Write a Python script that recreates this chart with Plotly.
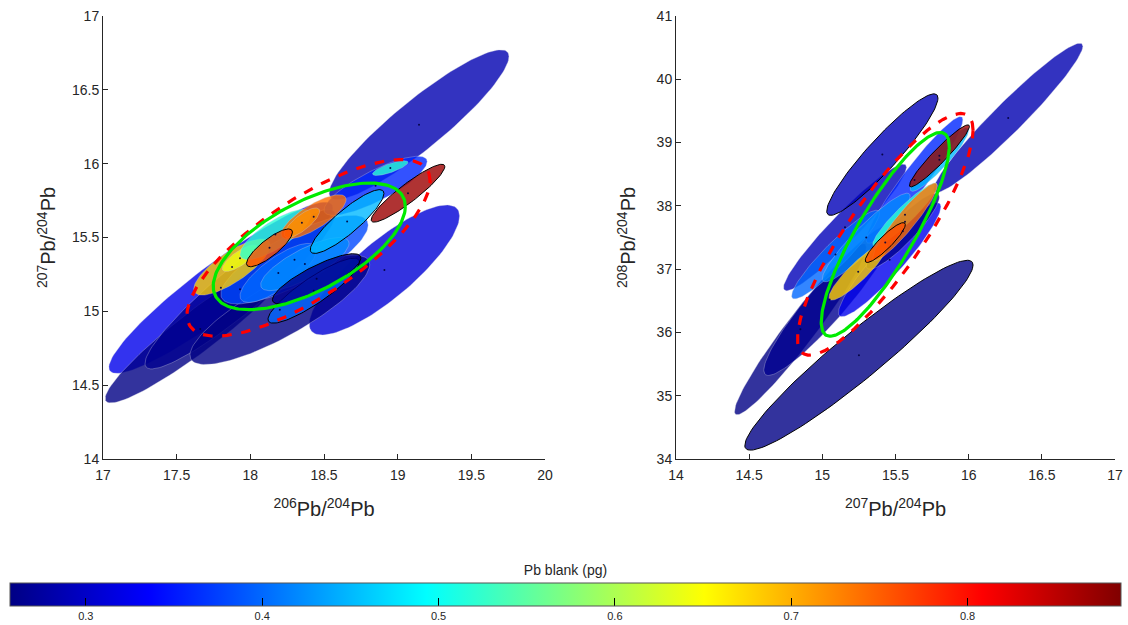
import numpy as np
import plotly.graph_objects as go

# ---------------- data ----------------
# Left panel: 206Pb/204Pb (x) vs 207Pb/204Pb (y) error ellipses
L_cx = [17.80, 17.66, 19.145, 18.91, 17.93, 18.20, 18.85, 18.30, 18.19, 18.37, 18.43, 18.45,
        17.876, 17.93, 18.17, 18.95, 18.43, 18.35, 18.13, 18.657, 19.07]
L_cy = [15.16, 14.88, 16.264, 15.28, 15.15, 15.01, 15.85, 15.35, 15.26, 15.32, 15.14, 15.22,
        15.30, 15.36, 15.52, 15.97, 15.64, 15.60, 15.43, 15.608, 15.80]
L_sx = [0.76, 0.645, 0.61, 0.51, 0.645, 0.61, 0.35, 0.50, 0.26, 0.30, 0.31, 0.30,
        0.26, 0.12, 0.24, 0.12, 0.22, 0.12, 0.156, 0.25, 0.25]
L_sy = [0.58, 0.50, 0.507, 0.44, 0.54, 0.37, 0.20, 0.30, 0.20, 0.18, 0.22, 0.17,
        0.19, 0.09, 0.17, 0.05, 0.15, 0.10, 0.128, 0.216, 0.196]
L_rho = [0.93, 0.94, 0.91, 0.83, 0.93, 0.83, 0.82, 0.78, 0.78, 0.78, 0.88, 0.83,
         0.78, 0.78, 0.78, 0.78, 0.78, 0.78, 0.83, 0.88, 0.92]
L_val = [0.323, 0.257, 0.285, 0.31, 0.265, 0.257, 0.36, 0.38, 0.40, 0.42, 0.40, 0.262,
         0.68, 0.64, 0.52, 0.52, 0.74, 0.72, 0.76, 0.45, 0.87]
L_edge = [0, 0, 0, 0, 0, 0, 0, 0, 0, 0, 1, 1, 0, 0, 0, 0, 0, 0, 1, 1, 1]

# Right panel: 207Pb/204Pb (x) vs 208Pb/204Pb (y) error ellipses
R_cx = [14.85, 15.25, 15.05, 15.155, 16.27, 15.41, 15.46, 15.63, 15.09, 15.30, 15.55,
        15.245, 15.565, 15.565, 15.80, 15.43, 15.80]
R_cy = [36.05, 35.64, 36.52, 37.66, 39.39, 38.81, 37.15, 38.41, 37.23, 37.50, 37.60,
        36.96, 37.86, 37.75, 38.73, 37.42, 38.79]
R_sx = [0.45, 0.78, 0.45, 0.42, 0.51, 0.38, 0.35, 0.33, 0.30, 0.30, 0.25,
        0.20, 0.22, 0.22, 0.20, 0.137, 0.205]
R_sy = [1.35, 1.50, 1.20, 1.00, 1.18, 0.96, 0.90, 1.00, 0.70, 0.70, 0.60,
        0.45, 0.50, 0.61, 0.50, 0.315, 0.49]
R_rho = [0.96, 0.95, 0.93, 0.95, 0.96, 0.93, 0.93, 0.95, 0.93, 0.93, 0.90,
         0.90, 0.93, 0.93, 0.92, 0.90, 0.95]
R_val = [0.257, 0.257, 0.265, 0.29, 0.285, 0.29, 0.325, 0.36, 0.40, 0.42, 0.262,
         0.68, 0.52, 0.74, 0.45, 0.76, 0.87]
R_edge = [0, 1, 0, 0, 0, 1, 0, 0, 0, 0, 0, 0, 0, 0, 0, 1, 1]

# Summary ellipses: [x, y, sx, sy, rho]
L_green = [18.40, 15.44, 0.652, 0.429, 0.63]
L_red = [18.395, 15.43, 0.825, 0.598, 0.76]
R_green = [15.43, 37.55, 0.4375, 1.61, 0.86]
R_red = [15.43, 37.55, 0.60, 1.91, 0.86]

CMIN, CMAX = 0.257, 0.887
cb_ticks = [0.3, 0.4, 0.5, 0.6, 0.7, 0.8]

# MATLAB-style jet colorscale
jet_stops = [(0.0, (0, 0, 132)), (0.125, (0, 0, 255)), (0.375, (0, 255, 255)),
             (0.625, (255, 255, 0)), (0.875, (255, 0, 0)), (1.0, (128, 0, 0))]
jet_scale = [[s, "rgb(%d,%d,%d)" % c] for s, c in jet_stops]


def jet_rgb(v):
    f = min(max((v - CMIN) / (CMAX - CMIN), 0), 1)
    for (s0, c0), (s1, c1) in zip(jet_stops[:-1], jet_stops[1:]):
        if s0 <= f <= s1:
            t = (f - s0) / (s1 - s0)
            return tuple(int(round(a + (b - a) * t)) for a, b in zip(c0, c1))
    return jet_stops[-1][1]


def ellipse(cx, cy, sx, sy, rho, n=120):
    t = np.linspace(0, 2 * np.pi, n)
    x = cx + sx * np.cos(t)
    y = cy + sy * (rho * np.cos(t) + np.sqrt(1 - rho ** 2) * np.sin(t))
    return x, y


fig = go.Figure()


def add_panel(cx, cy, sx, sy, rho, val, edge, xa, ya):
    for i in range(len(cx)):
        x, y = ellipse(cx[i], cy[i], sx[i], sy[i], rho[i])
        r, g, b = jet_rgb(val[i])
        fig.add_trace(go.Scatter(
            x=x, y=y, mode="lines", fill="toself",
            fillcolor="rgba(%d,%d,%d,0.8)" % (r, g, b),
            line=dict(color="black" if edge[i] else "rgba(210,210,225,0.55)",
                      width=1 if edge[i] else 0.6),
            xaxis=xa, yaxis=ya, showlegend=False, hoverinfo="skip"))
    fig.add_trace(go.Scatter(x=cx, y=cy, mode="markers",
                             marker=dict(size=2, color="rgba(0,0,60,0.9)"),
                             xaxis=xa, yaxis=ya, showlegend=False, hoverinfo="skip"))


def add_summary(p, color, dash, xa, ya):
    x, y = ellipse(*p, n=200)
    fig.add_trace(go.Scatter(x=x, y=y, mode="lines",
                             line=dict(color=color, width=3.2, dash=dash),
                             xaxis=xa, yaxis=ya, showlegend=False, hoverinfo="skip"))


add_panel(L_cx, L_cy, L_sx, L_sy, L_rho, L_val, L_edge, "x", "y")
add_summary(L_red, "rgb(255,0,0)", "dash", "x", "y")
add_summary(L_green, "rgb(0,235,0)", "solid", "x", "y")

add_panel(R_cx, R_cy, R_sx, R_sy, R_rho, R_val, R_edge, "x2", "y2")
add_summary(R_red, "rgb(255,0,0)", "dash", "x2", "y2")
add_summary(R_green, "rgb(0,235,0)", "solid", "x2", "y2")

W, H = 1128, 625

# colorbar carrier (points outside visible range)
fig.add_trace(go.Scatter(
    x=[0, 0], y=[0, 0], mode="markers",
    marker=dict(color=[CMIN, CMAX], cmin=CMIN, cmax=CMAX, colorscale=jet_scale,
                size=1, showscale=True,
                colorbar=dict(orientation="h", x=(10 + 1121) / 2 / W, xanchor="center",
                              len=1111, lenmode="pixels", thickness=23,
                              y=1 - 567 / H, yanchor="top", xpad=0, ypad=0,
                              tickvals=cb_ticks, ticktext=[str(t) for t in cb_ticks],
                              ticks="inside", ticklen=8, tickcolor="black",
                              outlinewidth=1, outlinecolor="#555",
                              tickfont=dict(family="Liberation Sans", size=11, color="#262626"),
                              title=dict(text="Pb blank (pg)", side="top",
                                         font=dict(family="Liberation Sans", size=14,
                                                   color="#262626")))),
    xaxis="x", yaxis="y", showlegend=False, hoverinfo="skip"))

ytop = 1 - 16 / H
ybot = 1 - 459 / H
axis_common = dict(showline=True, linecolor="#262626", linewidth=1, ticks="inside",
                   ticklen=5, tickcolor="#262626", showgrid=False, zeroline=False,
                   mirror=False, automargin=False,
                   tickfont=dict(family="Liberation Sans", size=14, color="#262626"))
title_font = dict(family="Liberation Sans", size=20, color="#262626")

fig.update_layout(
    width=W, height=H, plot_bgcolor="white", paper_bgcolor="white",
    margin=dict(l=0, r=0, t=0, b=0, autoexpand=False),
    xaxis=dict(domain=[103 / W, 545 / W], range=[17, 20], dtick=0.5, anchor="y",
               ticklabelstandoff=3,
               title=dict(text="<sup>206</sup>Pb/<sup>204</sup>Pb", font=title_font, standoff=20),
               **axis_common),
    yaxis=dict(domain=[ybot, ytop], range=[14, 17], dtick=0.5, anchor="x",
               title=dict(text="<sup>207</sup>Pb/<sup>204</sup>Pb", font=title_font, standoff=10),
               **axis_common),
    xaxis2=dict(domain=[676 / W, 1115 / W], range=[14, 17], dtick=0.5, anchor="y2",
                ticklabelstandoff=3,
                title=dict(text="<sup>207</sup>Pb/<sup>204</sup>Pb", font=title_font, standoff=20),
                **axis_common),
    yaxis2=dict(domain=[ybot, ytop], range=[34, 41], dtick=1, anchor="x2",
                title=dict(text="<sup>208</sup>Pb/<sup>204</sup>Pb", font=title_font, standoff=15),
                **axis_common),
)

fig.write_html("out.html",
               config={"displayModeBar": False},
               post_script="document.body.style.margin='0';"
                           "document.body.style.overflow='hidden';")
